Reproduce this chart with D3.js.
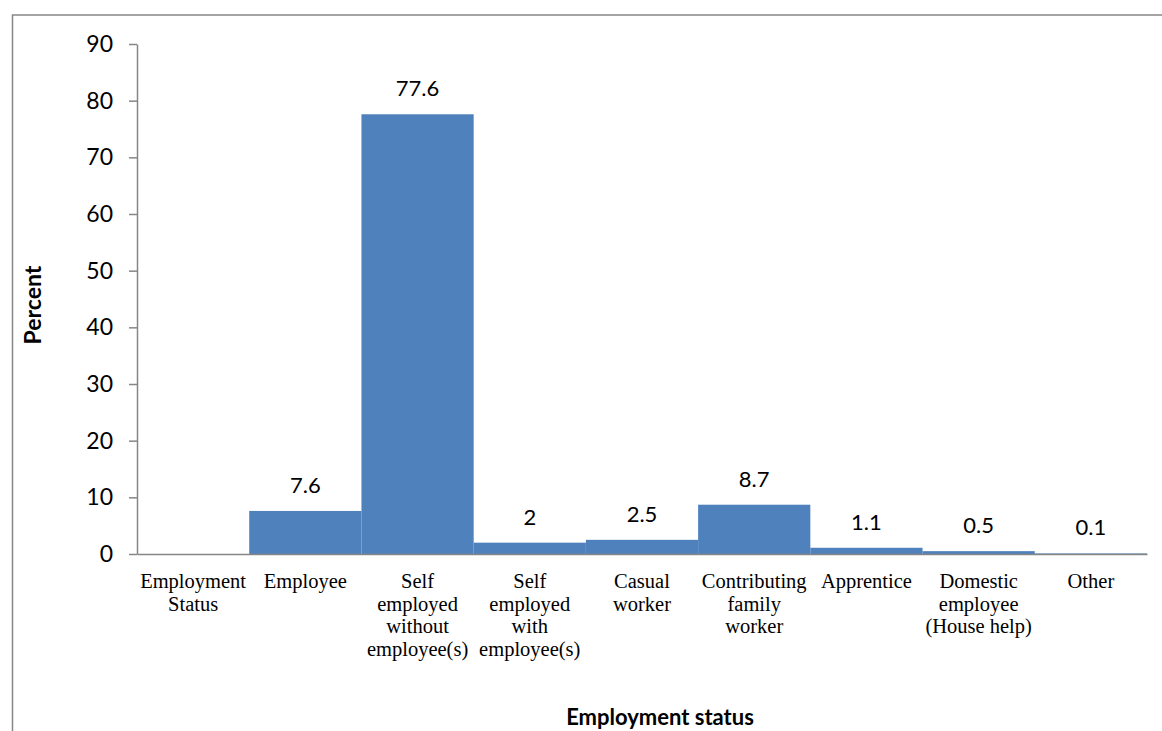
<!DOCTYPE html>
<html>
<head>
<meta charset="utf-8">
<script src="https://cdn.jsdelivr.net/npm/d3@7"></script>
<style>
  body { margin: 0; background: #fff; }
  svg { display: block; }
</style>
</head>
<body>
<div id="chart"></div>
<script>
// chart data
var categories = [
  "Employment\nStatus",
  "Employee",
  "Self\nemployed\nwithout\nemployee(s)",
  "Self\nemployed\nwith\nemployee(s)",
  "Casual\nworker",
  "Contributing\nfamily\nworker",
  "Apprentice",
  "Domestic\nemployee\n(House help)",
  "Other"
];
var percents = [null, 7.6, 77.6, 2, 2.5, 8.7, 1.1, 0.5, 0.1];
var yTicks = [0, 10, 20, 30, 40, 50, 60, 70, 80, 90];

var width = 1162;
var height = 731;
var axisColor = "#868686";
var barColor = "#4F81BD";

var svg = d3.select("#chart")
  .append("svg")
  .attr("width", width)
  .attr("height", height);

// outer chart border (runs off the right and bottom of the picture)
svg.append("rect")
  .attr("x", 12.5)
  .attr("y", 15)
  .attr("width", 1300)
  .attr("height", 800)
  .attr("fill", "#fff")
  .attr("stroke", axisColor)
  .attr("stroke-width", 1.5);

var xScale = d3.scaleBand()
  .domain(categories)
  .range([137, 1147])
  .padding(0);

var yScale = d3.scaleLinear()
  .domain([0, 90])
  .range([554, 44]);

// bars
svg.selectAll(".bar")
  .data(categories)
  .enter()
  .append("rect")
  .attr("class", "bar")
  .attr("x", function(d) { return xScale(d); })
  .attr("width", xScale.bandwidth())
  .attr("y", function(d, i) { return yScale(percents[i] || 0); })
  .attr("height", function(d, i) { return yScale(0) - yScale(percents[i] || 0); })
  .attr("fill", barColor);

// value labels (none for the first, empty category)
svg.selectAll(".valLabel")
  .data(categories)
  .enter()
  .filter(function(d, i) { return percents[i] !== null; })
  .append("text")
  .attr("class", "valLabel")
  .attr("x", function(d) { return xScale(d) + xScale.bandwidth() / 2; })
  .attr("y", function(d) { return yScale(percents[categories.indexOf(d)]) - 18; })
  .attr("text-anchor", "middle")
  .attr("font-family", "Lato, sans-serif")
  .attr("font-size", 22)
  .attr("fill", "#000")
  .text(function(d) { return percents[categories.indexOf(d)]; });

// y axis
var yAxis = d3.axisLeft(yScale)
  .tickValues(yTicks)
  .tickSize(8)
  .tickSizeOuter(0)
  .tickPadding(16);

var yG = svg.append("g")
  .attr("transform", "translate(137,0)")
  .call(yAxis);
yG.selectAll("path, line").attr("stroke", axisColor).attr("stroke-width", 1.5);
yG.selectAll("text")
  .attr("font-family", "Lato, sans-serif")
  .attr("font-size", 23)
  .attr("fill", "#000");

// x axis
var xAxis = d3.axisBottom(xScale)
  .tickSize(0)
  .tickSizeOuter(0)
  .tickFormat("");

var xG = svg.append("g")
  .attr("transform", "translate(0," + yScale(0) + ")")
  .call(xAxis);
xG.selectAll("path").attr("stroke", axisColor).attr("stroke-width", 1.5);

// category labels, several lines each
var catLabels = svg.selectAll(".catLabel")
  .data(categories)
  .enter()
  .append("text")
  .attr("class", "catLabel")
  .attr("text-anchor", "middle")
  .attr("font-family", "'Liberation Serif', 'Times New Roman', serif")
  .attr("font-size", 20.5)
  .attr("fill", "#000");

catLabels.each(function(d) {
  var cx = xScale(d) + xScale.bandwidth() / 2;
  var lines = d.split("\n");
  var self = d3.select(this);
  lines.forEach(function(line, k) {
    self.append("tspan")
      .attr("x", cx)
      .attr("y", 588 + k * 22.7)
      .text(line);
  });
});

// axis titles
svg.append("text")
  .attr("transform", "translate(41,305)rotate(-90)")
  .attr("text-anchor", "middle")
  .attr("font-family", "Lato, sans-serif")
  .attr("font-weight", "bold")
  .attr("font-size", 23)
  .attr("fill", "#000")
  .text("Percent");

svg.append("text")
  .attr("x", 660)
  .attr("y", 725)
  .attr("text-anchor", "middle")
  .attr("font-family", "Lato, sans-serif")
  .attr("font-weight", "bold")
  .attr("font-size", 22)
  .attr("fill", "#000")
  .text("Employment status");
</script>
</body>
</html>
